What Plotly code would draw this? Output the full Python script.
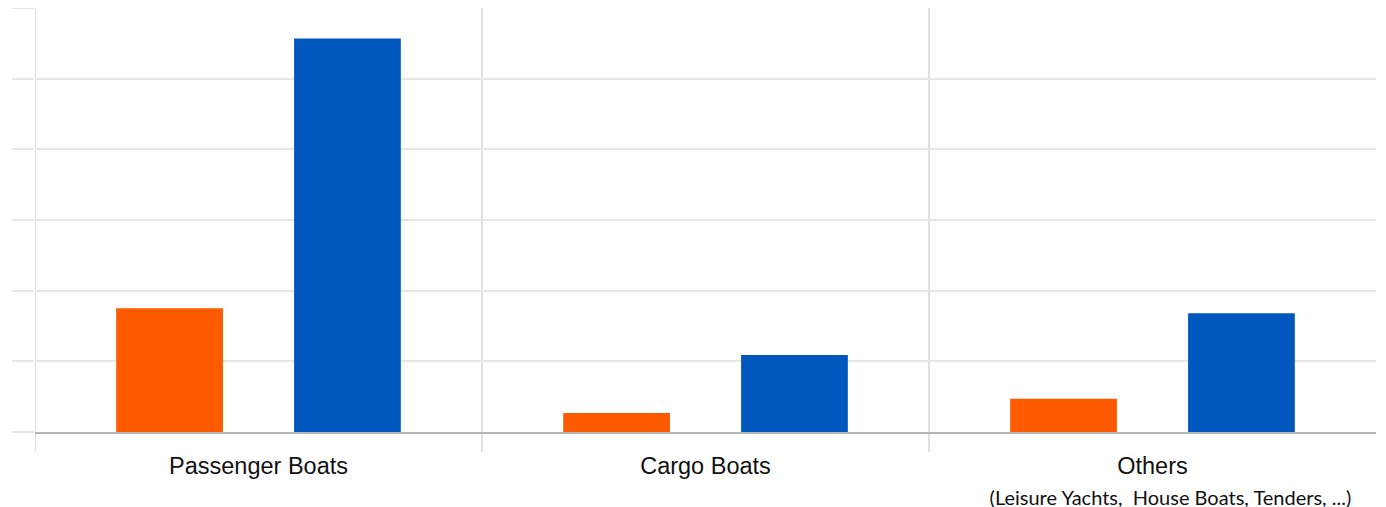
import plotly.graph_objects as go

categories = ["Passenger Boats", "Cargo Boats", "Others"]
tick_labels = [
    "Passenger Boats",
    "Cargo Boats",
    "Others<br><span style='font-family:Lato;font-size:20px'>"
    "&nbsp;&nbsp;&nbsp;&nbsp;&nbsp;&nbsp;&nbsp;(Leisure Yachts,  House Boats, Tenders, ...)</span>",
]
series_a = [1.75, 0.27, 0.47]   # orange
series_b = [5.57, 1.09, 1.68]   # blue

fig = go.Figure()
fig.add_trace(go.Bar(x=categories, y=series_a, marker=dict(color="#FF5A00", line_width=0),
                     name="A"))
fig.add_trace(go.Bar(x=categories, y=series_b, marker=dict(color="#0057BE", line_width=0),
                     name="B"))

# vertical separators between categories, running a bit below the baseline
for xv in [-0.5, 0.5, 1.5]:
    fig.add_shape(type="line", xref="x", yref="paper", x0=xv, x1=xv, y0=-0.047, y1=1,
                  line=dict(color="#d6d6d6", width=1.5), layer="below")

# page body adds an 8px offset, margins compensate
fig.update_layout(
    width=1386, height=507,
    margin=dict(l=27, r=18, t=0, b=83),
    paper_bgcolor="white", plot_bgcolor="white",
    barmode="group", bargap=0.204, bargroupgap=0.4,
    showlegend=False,
    font=dict(family="Liberation Sans, Arial, sans-serif", color="#111111"),
)
fig.update_xaxes(
    range=[-0.5, 2.5], tickmode="array", tickvals=categories, ticktext=tick_labels,
    tickfont=dict(size=23.5), ticks="", showgrid=False, zeroline=False,
    showline=True, linecolor="#b5b5b5", linewidth=2, ticklabelstandoff=12,
    automargin=False,
)
fig.update_yaxes(
    range=[0, 6], dtick=1, showticklabels=False, showgrid=True,
    gridcolor="#e6e6e6", gridwidth=2, zeroline=False,
    ticks="outside", ticklen=22, tickcolor="#e6e6e6", tickwidth=2,
    automargin=False,
)

fig.write_html("out.html")
